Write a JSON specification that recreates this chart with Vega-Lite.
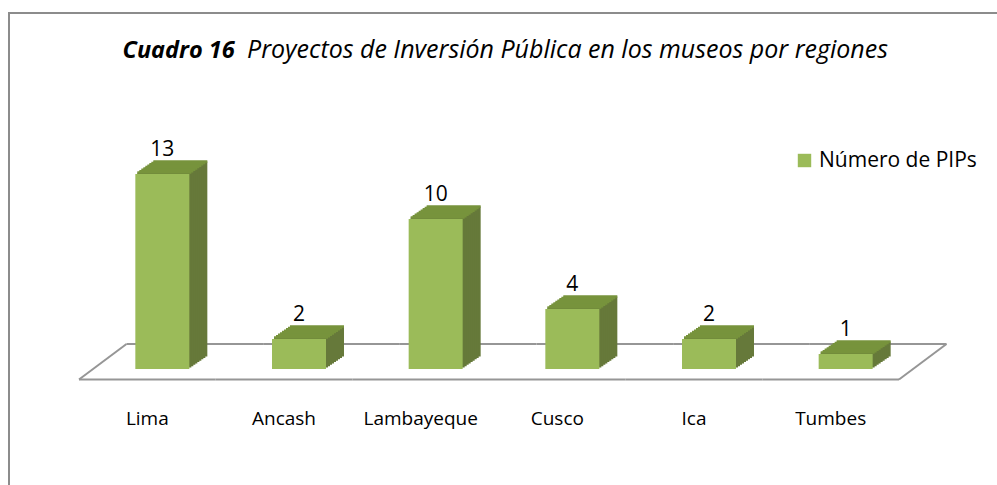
{
  "$schema": "https://vega.github.io/schema/vega-lite/v6.json",
  "width": 990,
  "height": 476,
  "padding": {"left": 9, "top": 13, "right": 0, "bottom": 0},
  "background": "white",
  "config": {
    "font": "Open Sans",
    "view": {"stroke": "#8c8c8c", "strokeWidth": 2},
    "legend": {"padding": 0}
  },
  "title": {
    "text": "Proyectos de Inversión Pública en los museos por regiones",
    "anchor": "start",
    "frame": "group",
    "dx": 238,
    "offset": -50.25,
    "font": "Open Sans",
    "fontSize": 25,
    "fontStyle": "italic",
    "fontWeight": "normal",
    "color": "#000000"
  },
  "data": {
    "values": [
      {"region": "Lima", "pips": 13},
      {"region": "Ancash", "pips": 2},
      {"region": "Lambayeque", "pips": 10},
      {"region": "Cusco", "pips": 4},
      {"region": "Ica", "pips": 2},
      {"region": "Tumbes", "pips": 1}
    ]
  },
  "encoding": {
    "x": {
      "field": "region",
      "type": "nominal",
      "scale": {
        "domain": ["Lima", "Ancash", "Lambayeque", "Cusco", "Ica", "Tumbes"],
        "range": [70, 890],
        "paddingInner": 0,
        "paddingOuter": 0
      },
      "axis": {
        "title": null,
        "domain": false,
        "ticks": false,
        "grid": false,
        "labelAngle": 0,
        "labelPadding": 0,
        "labelFont": "Open Sans",
        "labelFontSize": 19,
        "labelColor": "#000000",
        "offset": -80
      }
    },
    "y": {
      "field": "pips",
      "type": "quantitative",
      "scale": {"domain": [0, 13], "range": [356, 161], "nice": false},
      "axis": {
        "title": "Cuadro 16",
        "labels": false,
        "ticks": false,
        "domain": false,
        "grid": false,
        "titleAngle": 0,
        "titleAlign": "left",
        "titleBaseline": "alphabetic",
        "titleX": 113,
        "titleY": 44,
        "titleFont": "Open Sans",
        "titleFontSize": 23.5,
        "titleFontStyle": "italic",
        "titleFontWeight": "bold",
        "titleColor": "#000000"
      }
    }
  },
  "layer": [
    {
      "mark": {"type": "tick", "size": 136.67, "thickness": 2, "color": "#969696", "opacity": 1, "yOffset": 10.5},
      "encoding": {"y": {"datum": 0}}
    },
    {
      "mark": {"type": "tick", "size": 136.67, "thickness": 2, "color": "#969696", "opacity": 1, "xOffset": 47.5, "yOffset": -25},
      "encoding": {"y": {"datum": 0}}
    },
    {
      "transform": [{"filter": "datum.region === 'Lima'"}],
      "mark": {"type": "rule", "color": "#969696", "strokeWidth": 2, "xOffset": -68.33, "x2Offset": -20.83, "yOffset": 10.5, "y2Offset": -25},
      "encoding": {"x2": {"field": "region"}, "y": {"datum": 0}, "y2": {"datum": 0}}
    },
    {
      "transform": [{"filter": "datum.region === 'Tumbes'"}],
      "mark": {"type": "rule", "color": "#969696", "strokeWidth": 2, "xOffset": 68.33, "x2Offset": 115.83, "yOffset": 10.5, "y2Offset": -25},
      "encoding": {"x2": {"field": "region"}, "y": {"datum": 0}, "y2": {"datum": 0}}
    },
    {"mark": {"type": "bar", "width": 54, "color": "#66793A", "xOffset": 33, "yOffset": -12.5}},
    {"mark": {"type": "bar", "width": 54, "color": "#66793A", "xOffset": 31, "yOffset": -11.11}},
    {"mark": {"type": "bar", "width": 54, "color": "#66793A", "xOffset": 29, "yOffset": -9.72}},
    {"mark": {"type": "bar", "width": 54, "color": "#66793A", "xOffset": 27, "yOffset": -8.33}},
    {"mark": {"type": "bar", "width": 54, "color": "#66793A", "xOffset": 25, "yOffset": -6.94}},
    {"mark": {"type": "bar", "width": 54, "color": "#66793A", "xOffset": 23, "yOffset": -5.56}},
    {"mark": {"type": "bar", "width": 54, "color": "#66793A", "xOffset": 21, "yOffset": -4.17}},
    {"mark": {"type": "bar", "width": 54, "color": "#66793A", "xOffset": 19, "yOffset": -2.78}},
    {"mark": {"type": "bar", "width": 54, "color": "#66793A", "xOffset": 17, "yOffset": -1.39}},
    {"mark": {"type": "tick", "size": 54, "thickness": 2.5, "color": "#77933C", "opacity": 1, "xOffset": 33, "yOffset": -12.5}},
    {"mark": {"type": "tick", "size": 54, "thickness": 2.5, "color": "#77933C", "opacity": 1, "xOffset": 31, "yOffset": -11.11}},
    {"mark": {"type": "tick", "size": 54, "thickness": 2.5, "color": "#77933C", "opacity": 1, "xOffset": 29, "yOffset": -9.72}},
    {"mark": {"type": "tick", "size": 54, "thickness": 2.5, "color": "#77933C", "opacity": 1, "xOffset": 27, "yOffset": -8.33}},
    {"mark": {"type": "tick", "size": 54, "thickness": 2.5, "color": "#77933C", "opacity": 1, "xOffset": 25, "yOffset": -6.94}},
    {"mark": {"type": "tick", "size": 54, "thickness": 2.5, "color": "#77933C", "opacity": 1, "xOffset": 23, "yOffset": -5.56}},
    {"mark": {"type": "tick", "size": 54, "thickness": 2.5, "color": "#77933C", "opacity": 1, "xOffset": 21, "yOffset": -4.17}},
    {"mark": {"type": "tick", "size": 54, "thickness": 2.5, "color": "#77933C", "opacity": 1, "xOffset": 19, "yOffset": -2.78}},
    {"mark": {"type": "tick", "size": 54, "thickness": 2.5, "color": "#77933C", "opacity": 1, "xOffset": 17, "yOffset": -1.39}},
    {
      "mark": {"type": "bar", "width": 54, "xOffset": 15},
      "encoding": {
        "color": {
          "datum": "Número de PIPs",
          "scale": {"range": ["#9BBB59"]},
          "legend": {
            "title": null,
            "orient": "none",
            "legendX": 785,
            "legendY": 137,
            "symbolType": "square",
            "symbolSize": 180,
            "symbolStrokeWidth": 0,
            "symbolOpacity": 1,
            "labelFont": "Open Sans",
            "labelFontSize": 21,
            "labelColor": "#000000",
            "labelOffset": 4
          }
        }
      }
    },
    {
      "mark": {"type": "text", "xOffset": 15, "yOffset": -24, "baseline": "middle", "font": "Open Sans", "fontSize": 21, "color": "#000000"},
      "encoding": {"text": {"field": "pips", "type": "quantitative"}}
    }
  ]
}
